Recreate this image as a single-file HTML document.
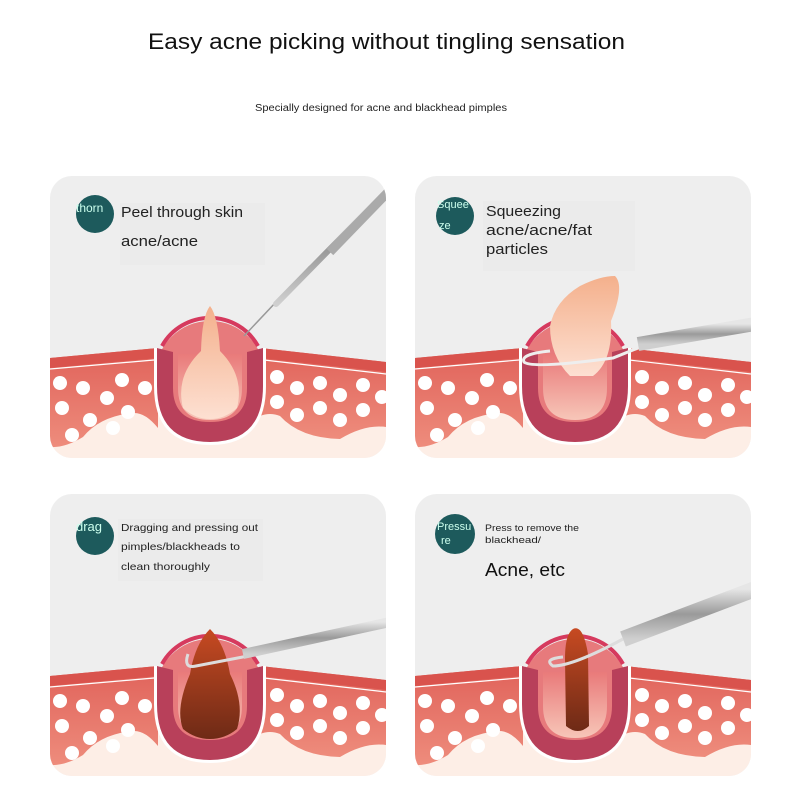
<!DOCTYPE html>
<html><head><style>
html,body{margin:0;padding:0;background:#fff;}
svg{display:block;font-family:"Liberation Sans",sans-serif;}
</style></head><body>
<svg width="800" height="800" viewBox="0 0 800 800" xmlns="http://www.w3.org/2000/svg">
<defs>
<clipPath id="pc"><rect x="0" y="0" width="336" height="282" rx="22"/></clipPath>
<linearGradient id="pus" x1="0" y1="0" x2="0" y2="1"><stop offset="0" stop-color="#f4b08c"/><stop offset="1" stop-color="#fde0d2"/></linearGradient>
<linearGradient id="blk" x1="0" y1="0" x2="0" y2="1"><stop offset="0" stop-color="#c74a22"/><stop offset="1" stop-color="#6e2a16"/></linearGradient>
<linearGradient id="steel" x1="0" y1="0" x2="0" y2="1"><stop offset="0" stop-color="#e6e6e6"/><stop offset="0.5" stop-color="#9a9a9a"/><stop offset="1" stop-color="#cfcfcf"/></linearGradient>
<linearGradient id="band" x1="0" y1="0" x2="0" y2="1"><stop offset="0" stop-color="#e0625a"/><stop offset="1" stop-color="#ee8c7c"/></linearGradient>
<linearGradient id="cav" x1="0" y1="0" x2="0" y2="1"><stop offset="0" stop-color="#e97a7a"/><stop offset="1" stop-color="#f7c6b8"/></linearGradient>
<g id="skin">
<rect x="0" y="0" width="336" height="282" fill="#eeeeee"/>
<rect x="0" y="230" width="336" height="52" fill="#fdeee6"/>
<circle cx="160" cy="200" r="55" fill="#e77a7c"/>
<path d="M112,170 A55,55 0 0 1 208,170" fill="none" stroke="#d63a5e" stroke-width="4"/>
<path d="M0,182 L108,172 L108,252 Q95,236 83,237 Q50,240 33,261 Q15,272 0,271 Z" fill="url(#band)"/>
<path d="M0,182 L108,172 L108,182 L0,192 Z" fill="#d9534d"/>
<path d="M0,193 L104,184" stroke="#fff" stroke-width="1.2"/>
<path d="M210,172 L336,186 L336,251 Q315,248 290,263 Q250,262 230,240 Q220,236 210,240 Z" fill="url(#band)"/>
<path d="M210,172 L336,186 L336,196 L210,182 Z" fill="#d9534d"/>
<path d="M214,184 L336,198" stroke="#fff" stroke-width="1.2"/>
<g fill="#fff">
<circle cx="10" cy="207" r="7"/><circle cx="33" cy="212" r="7"/><circle cx="72" cy="204" r="7"/><circle cx="95" cy="212" r="7"/>
<circle cx="57" cy="222" r="7"/><circle cx="12" cy="232" r="7"/><circle cx="40" cy="244" r="7"/><circle cx="78" cy="236" r="7"/><circle cx="22" cy="259" r="7"/><circle cx="63" cy="252" r="7"/>
<circle cx="227" cy="201" r="7"/><circle cx="247" cy="212" r="7"/><circle cx="270" cy="207" r="7"/><circle cx="290" cy="219" r="7"/><circle cx="313" cy="209" r="7"/><circle cx="332" cy="221" r="7"/>
<circle cx="227" cy="226" r="7"/><circle cx="247" cy="239" r="7"/><circle cx="270" cy="232" r="7"/><circle cx="290" cy="244" r="7"/><circle cx="313" cy="234" r="7"/>
</g>
<path d="M104,172 L104,210 Q104,269 160,269 Q216,269 216,210 L216,172 L210,172 L210,210 Q210,262 160,262 Q110,262 110,210 L110,172 Z" fill="#fff"/>
<path d="M128,178 L128,212 Q128,244 160,244 Q192,244 192,212 L192,178 Z" fill="url(#cav)"/>
<path d="M107,172 L107,210 Q107,266 160,266 Q213,266 213,210 L213,172 L197,176 L197,212 Q197,246 160,246 Q123,246 123,212 L123,176 Z" fill="#b8405a"/>
</g>
</defs>

<text x="148" y="49" font-size="22" fill="#111" textLength="477" lengthAdjust="spacingAndGlyphs">Easy acne picking without tingling sensation</text>
<text x="255" y="111" font-size="10" fill="#222" textLength="252" lengthAdjust="spacingAndGlyphs">Specially designed for acne and blackhead pimples</text>

<g transform="translate(50,176)">
<g clip-path="url(#pc)">
<use href="#skin"/>
<path d="M160,130 Q152,140 151,175 Q125,200 133,232 Q145,243 160,243 Q175,243 187,232 Q195,200 170,175 Q168,140 160,130 Z" fill="url(#pus)"/>
<path d="M194,160 L260,90" stroke="#999" stroke-width="1.5"/>
<path d="M226,128 L330,22" stroke="url(#steel)" stroke-width="6" stroke-linecap="round"/>
<path d="M280,76 L340,14" stroke="#aaa" stroke-width="9"/>
</g>
<circle cx="45" cy="38" r="19" fill="#1d5a5c"/>
<text x="26" y="36" font-size="12" fill="#cfe">thorn</text>
<rect x="70" y="27" width="145" height="62" fill="#ebebeb"/>
<text x="71" y="41" font-size="15" fill="#222" textLength="122" lengthAdjust="spacingAndGlyphs">Peel through skin</text>
<text x="71" y="70" font-size="15" fill="#222" textLength="77" lengthAdjust="spacingAndGlyphs">acne/acne</text>
</g>

<g transform="translate(415,176)">
<g clip-path="url(#pc)">
<use href="#skin"/>
<path d="M155,200 Q135,180 135,150 Q140,125 165,110 Q185,100 200,100 Q210,110 196,145 Q198,185 178,200 Z" fill="url(#pus)"/>
<path d="M135,175 Q105,178 109,186 Q117,193 198,182 L228,170" fill="none" stroke="#eee" stroke-width="3"/>
<path d="M223,168 L340,148" stroke="url(#steel)" stroke-width="14"/>
</g>
<circle cx="40" cy="40" r="19" fill="#1d5a5c"/>
<text x="22" y="32" font-size="11" fill="#cfe">Squee</text>
<text x="24" y="53" font-size="11" fill="#cfe">ze</text>
<rect x="68" y="25" width="152" height="70" fill="#ebebeb"/>
<text x="71" y="40" font-size="15" fill="#222" textLength="75" lengthAdjust="spacingAndGlyphs">Squeezing</text>
<text x="71" y="59" font-size="15" fill="#222" textLength="106" lengthAdjust="spacingAndGlyphs">acne/acne/fat</text>
<text x="71" y="78" font-size="15" fill="#222" textLength="62" lengthAdjust="spacingAndGlyphs">particles</text>
</g>

<g transform="translate(50,494)">
<g clip-path="url(#pc)">
<use href="#skin"/>
<path d="M160,135 Q145,150 140,180 Q125,215 133,235 Q145,245 160,245 Q175,245 187,235 Q195,210 180,180 Q175,150 160,135 Z" fill="url(#blk)"/>
<path d="M138,160 Q133,175 146,172 L198,162" fill="none" stroke="#ddd" stroke-width="3"/>
<path d="M193,160 L340,128" stroke="url(#steel)" stroke-width="10"/>
</g>
<circle cx="45" cy="42" r="19" fill="#1d5a5c"/>
<text x="26" y="37" font-size="13" fill="#cfe">drag</text>
<rect x="68" y="25" width="145" height="62" fill="#ebebeb"/>
<text x="71" y="37" font-size="10.5" fill="#222" textLength="137" lengthAdjust="spacingAndGlyphs">Dragging and pressing out</text>
<text x="71" y="56" font-size="10.5" fill="#222" textLength="119" lengthAdjust="spacingAndGlyphs">pimples/blackheads to</text>
<text x="71" y="76" font-size="10.5" fill="#222" textLength="89" lengthAdjust="spacingAndGlyphs">clean thoroughly</text>
</g>

<g transform="translate(415,494)">
<g clip-path="url(#pc)">
<use href="#skin"/>
<path d="M158,135 Q168,130 173,160 L174,232 Q163,242 151,232 L150,165 Q150,140 158,135 Z" fill="url(#blk)"/>
<path d="M148,163 Q128,165 138,172 Q158,172 208,145" fill="none" stroke="#ddd" stroke-width="3"/>
<path d="M208,145 L340,95" stroke="url(#steel)" stroke-width="16"/>
</g>
<circle cx="40" cy="40" r="20" fill="#1d5a5c"/>
<text x="22" y="36" font-size="11" fill="#cfe">Pressu</text>
<text x="26" y="50" font-size="11" fill="#cfe">re</text>
<text x="70" y="37" font-size="9.5" fill="#222" textLength="94" lengthAdjust="spacingAndGlyphs">Press to remove the</text>
<text x="70" y="49" font-size="9.5" fill="#222" textLength="56" lengthAdjust="spacingAndGlyphs">blackhead/</text>
<text x="70" y="82" font-size="18" fill="#111" textLength="80" lengthAdjust="spacingAndGlyphs">Acne, etc</text>
</g>
</svg>
</body></html>
